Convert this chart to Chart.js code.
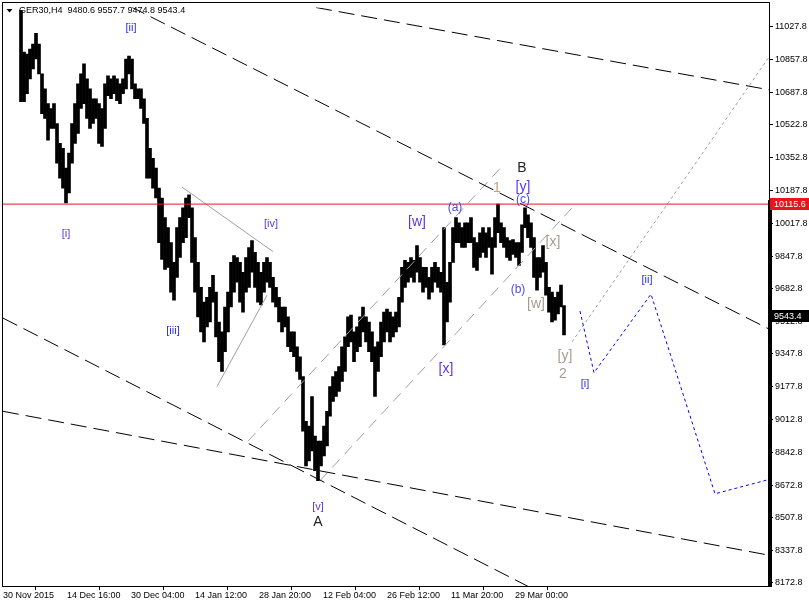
<!DOCTYPE html>
<html>
<head>
<meta charset="utf-8">
<title>GER30 H4</title>
<script src="https://cdn.jsdelivr.net/npm/chart.js@4.4.1/dist/chart.umd.min.js"></script>
<style>
  html, body { margin: 0; padding: 0; background: #fff; }
</style>
</head>
<body>
<canvas id="waveChart" width="809" height="607"></canvas>
<script>
// H4 bars, one x unit = one bar; every entry below covers 3 bars
let firstBar = 18;
let barStep = 3;

let highs = [
  11109, 10896, 10885, 10911, 10936, 10992, 10936, 10784, 10707, 10631,
  10606, 10631, 10529, 10427, 10402, 10300, 10377, 10529, 10631, 10733,
  10784, 10835, 10758, 10707, 10656, 10656, 10631, 10606, 10733, 10774,
  10758, 10774, 10758, 10733, 10758, 10860, 10875, 10860, 10733, 10707,
  10707, 10656, 10555, 10402, 10351, 10300, 10198, 10147, 10046, 9995,
  9918, 9817, 9995, 10046, 10097, 10147, 10163, 10097, 9944, 9817,
  9689, 9613, 9638, 9689, 9750, 9664, 9511, 9460, 9588, 9664,
  9817, 9852, 9842, 9817, 9766, 9842, 9893, 9929, 9868, 9817,
  9766, 9817, 9842, 9817, 9740, 9689, 9638, 9588, 9588, 9537,
  9460, 9460, 9384, 9333, 9231, 9002, 8977, 9129, 8926, 8900,
  8900, 8977, 9053, 9180, 9231, 9257, 9282, 9384, 9435, 9537,
  9547, 9460, 9486, 9537, 9588, 9537, 9511, 9460, 9384, 9409,
  9511, 9562, 9577, 9562, 9537, 9562, 9638, 9791, 9827, 9817,
  9842, 9827, 9903, 9842, 9791, 9791, 9740, 9791, 9817, 9791,
  9766, 9995, 9715, 9817, 9995, 10046, 10020, 9995, 10020, 10020,
  10046, 9944, 9918, 9969, 9995, 9969, 9995, 9944, 10046, 10115.6,
  10020, 9995, 9944, 9929, 9934, 9918, 9918, 10010, 10097, 10061,
  10020, 9944, 9842, 9842, 9903, 9817, 9689, 9664, 9638, 9664,
  9700, 9595
];
let lows = [
  10641, 10641, 10682, 10758, 10809, 10860, 10784, 10580, 10555, 10443,
  10504, 10504, 10326, 10249, 10198, 10122, 10173, 10326, 10427, 10478,
  10606, 10631, 10555, 10504, 10529, 10555, 10427, 10412, 10504, 10672,
  10656, 10682, 10646, 10631, 10682, 10707, 10784, 10707, 10656, 10656,
  10606, 10529, 10249, 10249, 10198, 10147, 9918, 9832, 9781, 9791,
  9664, 9623, 9740, 9842, 9918, 9944, 10046, 9817, 9664, 9537,
  9460, 9409, 9486, 9511, 9613, 9435, 9308, 9257, 9359, 9460,
  9588, 9664, 9715, 9613, 9562, 9664, 9689, 9766, 9689, 9613,
  9598, 9664, 9715, 9689, 9613, 9588, 9511, 9460, 9486, 9384,
  9359, 9333, 9257, 9216, 8951, 8773, 8799, 8850, 8748, 8697,
  8773, 8824, 8875, 9028, 9104, 9129, 9155, 9206, 9257, 9384,
  9409, 9308, 9359, 9384, 9460, 9409, 9359, 9308, 9129, 9257,
  9333, 9409, 9460, 9409, 9435, 9460, 9486, 9613, 9689, 9715,
  9740, 9715, 9766, 9715, 9664, 9689, 9628, 9664, 9715, 9689,
  9664, 9394, 9511, 9613, 9817, 9918, 9918, 9893, 9893, 9918,
  9918, 9791, 9776, 9842, 9868, 9842, 9893, 9756, 9893, 9969,
  9918, 9893, 9842, 9827, 9857, 9842, 9801, 9868, 9995, 9944,
  9893, 9740, 9674, 9740, 9766, 9649, 9562, 9511, 9521, 9552,
  9588, 9445
];

let quote = "GER30,H4  9480.6 9557.7 9474.8 9543.4";
let lastPrice = 9543.4;
let levelPrice = 10115.6;

let timeTicks = [0, 64, 128, 192, 256, 320, 384, 448, 512];
let timeLabels = ["30 Nov 2015", "14 Dec 16:00", "30 Dec 04:00", "14 Jan 12:00", "28 Jan 20:00",
                  "12 Feb 04:00", "26 Feb 12:00", "11 Mar 20:00", "29 Mar 00:00"];
let priceTicks = [11027.8, 10857.8, 10687.8, 10522.8, 10352.8, 10187.8, 10017.8, 9847.8, 9682.8,
                  9512.8, 9347.8, 9177.8, 9012.8, 8842.8, 8672.8, 8507.8, 8337.8, 8172.8];

// drawn objects: [bar, price] end points
let resistUpper = [[127, 11130], [766, 9475]];
let resistOuter = [[313, 11124], [766, 10702]];
let supportUpper = [[0, 9531], [530, 8142]];
let supportLower = [[0, 9053], [766, 8315]];
let channelTop = [[245, 8900], [500, 10315]];
let channelBottom = [[317, 8697], [569, 10096]];
let channelProj = [[569, 9409], [766, 10870]];
let wedgeTop = [[179, 10203], [270, 9872]];
let wedgeBottom = [[214, 9180], [264, 9648]];
let levelLine = [[0, levelPrice], [766, levelPrice]];
let forecast = [[577, 9567], [591, 9251], [648, 9654], [712, 8630], [765, 8702]];

// wave marks: text, bar, price, degree
let waves = [
  ["[ii]", 128, 11020, "minorBlue"],
  ["[i]", 63, 9964, "minorViolet"],
  ["[iii]", 170, 9465, "minorBlue"],
  ["[iv]", 268, 10015, "minorViolet"],
  ["[v]", 315, 8564, "minorViolet"],
  ["A", 315, 8483, "primary"],
  ["[w]", 414, 10025, "interViolet"],
  ["(a)", 452, 10096, "minute"],
  ["1", 494, 10198, "tan"],
  ["B", 519, 10300, "primary"],
  ["[y]", 520, 10203, "interViolet"],
  ["(c)", 520, 10137, "minute"],
  ["[x]", 550, 9923, "grey"],
  ["(b)", 515, 9679, "minute"],
  ["[w]", 533, 9603, "grey"],
  ["[x]", 443, 9267, "interViolet"],
  ["[y]", 562, 9338, "grey"],
  ["2", 560, 9246, "grey"],
  ["[i]", 582, 9195, "minorBlue"],
  ["[ii]", 644, 9725, "minorBlue"]
];

let waveStyle = {
  minorBlue: ["#2b2bf5", 11],
  minorViolet: ["#5a34ee", 11],
  interViolet: ["#5a34ee", 14],
  minute: ["#4a4af0", 12],
  primary: ["#222222", 14],
  tan: ["#c2a27c", 14],
  grey: ["#a89c90", 14]
};

const FONT = "'Liberation Sans', Arial, sans-serif";

function pts(line) {
  return line.map(p => ({x: p[0], y: p[1]}));
}

function drawn(line, color, dash) {
  return {
    type: 'line',
    data: pts(line),
    borderColor: color,
    borderWidth: 1,
    borderDash: dash,
    pointRadius: 0,
    fill: false,
    tension: 0,
    order: 0
  };
}

let priceBars = highs.map((h, i) => ({x: firstBar + i * barStep, y: [lows[i], h]}));

const overlay = {
  id: 'overlay',
  afterDraw(chart) {
    const c = chart.ctx;
    const a = chart.chartArea;
    const x = chart.scales.x;
    const y = chart.scales.y;
    c.save();

    // frame
    c.strokeStyle = '#000';
    c.lineWidth = 1;
    c.strokeRect(2.5, 2.5, a.right - 2, a.bottom - 2);
    c.fillStyle = '#000';
    c.fillRect(a.right - 1, y.getPixelForValue(levelPrice) - 4, 4, a.bottom - y.getPixelForValue(levelPrice) + 5);

    // wave marks
    c.textAlign = 'center';
    c.textBaseline = 'middle';
    waves.forEach(w => {
      let st = waveStyle[w[3]];
      c.fillStyle = st[0];
      c.font = st[1] + 'px ' + FONT;
      c.fillText(w[0], x.getPixelForValue(w[1]), y.getPixelForValue(w[2]));
    });

    // symbol line
    c.fillStyle = '#000';
    c.beginPath();
    c.moveTo(6.5, 9);
    c.lineTo(12.5, 9);
    c.lineTo(9.5, 12.5);
    c.closePath();
    c.fill();
    c.textAlign = 'left';
    c.font = '9px ' + FONT;
    c.fillText(quote, 19, 10.5);

    // price tags
    let tags = [[levelPrice, '#e8141e'], [lastPrice, '#000']];
    tags.forEach(t => {
      let py = Math.round(y.getPixelForValue(t[0]));
      c.fillStyle = t[1];
      c.fillRect(a.right + 1, py - 6, 809 - a.right - 1, 12);
      c.fillStyle = '#fff';
      c.font = '9px ' + FONT;
      c.fillText(t[0].toFixed(1), a.right + 5, py + 0.5);
    });
    c.restore();
  }
};

let waveChart = new Chart(document.getElementById('waveChart'), {
  type: 'bar',
  data: {
    datasets: [
      drawn(forecast, '#0000ff', [3, 3]),
      drawn(levelLine, '#e8141e', []),
      drawn(resistUpper, '#000', [16, 7]),
      drawn(resistOuter, '#000', [16, 7]),
      drawn(supportUpper, '#000', [16, 7]),
      drawn(supportLower, '#000', [16, 7]),
      drawn(channelTop, '#a0a0a0', [11, 7]),
      drawn(channelBottom, '#a0a0a0', [11, 7]),
      drawn(channelProj, '#a0a0a0', [3, 3]),
      drawn(wedgeTop, '#a0a0a0', []),
      drawn(wedgeBottom, '#a0a0a0', []),
      {
        type: 'bar',
        data: priceBars,
        backgroundColor: '#000',
        borderWidth: 0,
        barThickness: 3,
        order: 1
      }
    ]
  },
  options: {
    responsive: false,
    animation: false,
    devicePixelRatio: 1,
    layout: { padding: { left: 3, top: 3, right: 0, bottom: 0 } },
    plugins: {
      legend: { display: false },
      tooltip: { enabled: false }
    },
    scales: {
      x: {
        type: 'linear',
        min: 0,
        max: 766,
        offset: false,
        border: { display: false },
        grid: { drawOnChartArea: false, tickLength: 4, color: '#000' },
        ticks: {
          align: 'start',
          autoSkip: false,
          maxRotation: 0,
          padding: 0,
          color: '#000',
          font: { family: FONT, size: 9 },
          callback: (v, i) => timeLabels[i]
        },
        afterBuildTicks: s => { s.ticks = timeTicks.map(v => ({value: v})); },
        afterFit: s => { s.height = 21; }
      },
      y: {
        position: 'right',
        min: 8157.06,
        max: 11124.53,
        border: { display: false },
        grid: { drawOnChartArea: false, tickLength: 4, color: '#000' },
        ticks: {
          padding: 2,
          color: '#000',
          font: { family: FONT, size: 9 },
          callback: v => v.toFixed(1)
        },
        afterBuildTicks: s => { s.ticks = priceTicks.map(v => ({value: v})); },
        afterFit: s => { s.width = 40; }
      }
    }
  },
  plugins: [overlay]
});
</script>
</body>
</html>
